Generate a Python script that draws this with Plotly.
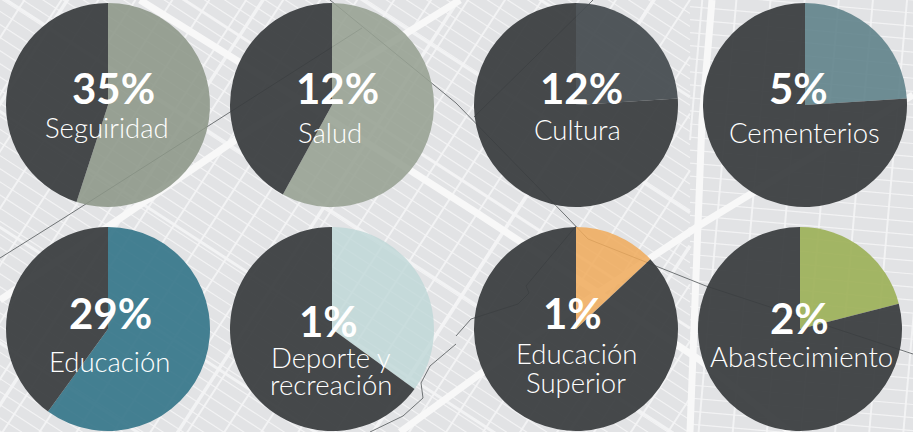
import numpy as np
import plotly.graph_objects as go

# wedge share of each pie (the big % labels differ from it)
categories = ["Seguiridad", "Salud", "Cultura", "Cementerios",
              "Educación", "Deporte y", "Educación", "Abastecimiento"]
second_lines = ["", "", "", "", "", "recreación", "Superior", ""]
wedge_share = [0.55, 0.58, 0.24, 0.24, 0.60, 0.35, 0.13, 0.21]
pct_labels = ["35%", "12%", "12%", "5%", "29%", "1%", "1%", "2%"]
wedge_colors = ["rgba(140,150,136,0.88)", "rgba(150,160,146,0.88)", "rgba(72,78,82,0.95)",
                "rgba(92,128,136,0.88)", "rgba(50,115,135,0.90)", "rgba(190,215,215,0.80)",
                "rgba(240,170,90,0.85)", "rgba(155,175,85,0.90)"]
DARK = "rgba(58,62,64,0.94)"

# layout, in pixels of the 913x432 page
W, H = 913, 432
R = 102
centers = [(108, 105), (332, 105), (576, 105), (805, 105),
           (108, 329), (332, 329), (576, 329), (800, 329)]
pct_pos = [(113, 88), (337, 88), (581, 88), (798, 88),
           (110, 313), (328, 321), (572, 313), (799, 318)]
name_pos = [(107, 127), (330, 132), (577, 129), (804, 132),
            (109, 361), (331, 357), (576, 353), (801, 356)]
second_pos = [None, None, None, None, None, (331, 384), (576, 382), None]

boundaries = [
    [(0, 258), (67, 216), (362, 28)],
    [(330, 0), (456, 103), (566, 216), (588, 239), (706, 286), (913, 354)],
    [(593, 0), (474, 117)],
    [(456, 336), (471, 319), (518, 304), (529, 293), (526, 286), (576, 226)],
    [(456, 344), (430, 366), (421, 383), (423, 398), (403, 416), (370, 432)],
]
main_roads = [
    [(712, 0), (702, 120), (690, 432)],
    [(140, 0), (300, 100), (480, 215), (700, 360), (790, 432)],
    [(913, 95), (700, 225), (520, 345), (400, 432)],
    [(460, 0), (250, 130), (0, 300)],
]


def street_lines(angle, spacing, x0, x1):
    """Parallel lines at an angle, clipped to the x range x0..x1."""
    d = np.array([np.cos(np.radians(angle)), np.sin(np.radians(angle))])
    n = np.array([-d[1], d[0]])
    xs, ys = [], []
    for off in np.arange(-1100, 1100, spacing):
        p = np.array([W / 2, H / 2]) + off * n
        t0 = (x0 - p[0]) / d[0]
        t1 = (x1 - p[0]) / d[0]
        xs += [p[0] + t0 * d[0], p[0] + t1 * d[0], None]
        ys += [p[1] + t0 * d[1], p[1] + t1 * d[1], None]
    return xs, ys


def polyline(points):
    return [p[0] for p in points] + [None], [p[1] for p in points] + [None]


fig = go.Figure()

# map backdrop
for angle, spacing, width, x0, x1 in [
    (33, 11, 1.2, -5, 690), (-57, 31, 2, -5, 690),
    (5, 13, 1.2, 690, 918), (-85, 34, 2, 690, 918),
    (33, 97, 3, -5, 690), (-57, 164, 3.5, -5, 690),
]:
    xs, ys = street_lines(angle, spacing, x0, x1)
    fig.add_trace(go.Scatter(x=xs, y=ys, mode="lines", line=dict(color="rgba(244,244,245,0.9)", width=width),
                             hoverinfo="skip", showlegend=False))
for road in main_roads:
    xs, ys = polyline(road)
    fig.add_trace(go.Scatter(x=xs, y=ys, mode="lines", line=dict(color="#f8f8f8", width=7),
                             hoverinfo="skip", showlegend=False))
for line in boundaries:
    xs, ys = polyline(line)
    fig.add_trace(go.Scatter(x=xs, y=ys, mode="lines", line=dict(color="#6f7375", width=1),
                             hoverinfo="skip", showlegend=False))

# the eight pies
for i, name in enumerate(categories):
    cx, cy = centers[i]
    fig.add_trace(go.Pie(
        values=[wedge_share[i], 1 - wedge_share[i]],
        labels=[name, "Resto"],
        sort=False, direction="clockwise", rotation=0,
        marker=dict(colors=[wedge_colors[i], DARK], line=dict(width=0)),
        textinfo="none", hoverinfo="skip", showlegend=False,
        domain=dict(x=[(cx - R) / W, (cx + R) / W], y=[1 - (cy + R) / H, 1 - (cy - R) / H]),
    ))

name_font = dict(family="Lato, sans-serif", size=27.5, weight=300, color="white")
annotations = []
for i, name in enumerate(categories):
    annotations.append(dict(x=pct_pos[i][0], y=pct_pos[i][1], text=f"<b>{pct_labels[i]}</b>",
                            xref="x", yref="y", showarrow=False,
                            font=dict(family="Lato, sans-serif", size=42, color="white")))
    annotations.append(dict(x=name_pos[i][0], y=name_pos[i][1], text=name,
                            xref="x", yref="y", showarrow=False, font=name_font))
    if second_lines[i]:
        annotations.append(dict(x=second_pos[i][0], y=second_pos[i][1], text=second_lines[i],
                                xref="x", yref="y", showarrow=False, font=name_font))

fig.update_layout(
    width=W, height=H,
    margin=dict(l=0, r=0, t=0, b=0),
    paper_bgcolor="#e2e3e5", plot_bgcolor="#e2e3e5",
    xaxis=dict(range=[0, W], visible=False, fixedrange=True),
    yaxis=dict(range=[H, 0], visible=False, fixedrange=True),
    annotations=annotations,
    showlegend=False,
)
# the page's default body margin would push the figure 8px off
fig.write_html("out.html", config=dict(displayModeBar=False),
               post_script="document.body.style.margin='0';document.body.style.overflow='hidden';")
